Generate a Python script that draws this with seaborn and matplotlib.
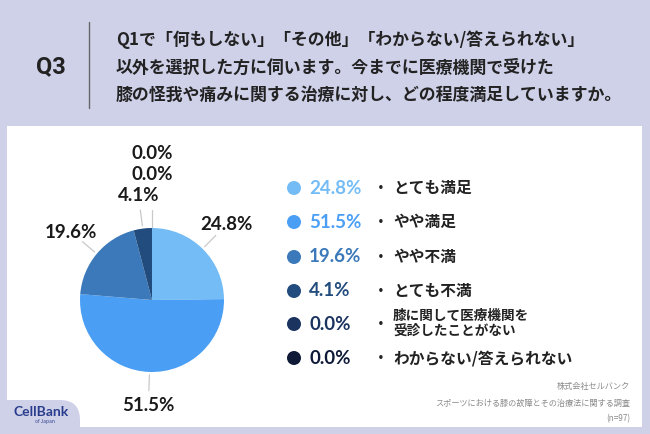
import numpy as np
import matplotlib
matplotlib.use("Agg")
import matplotlib.pyplot as plt
from matplotlib.patches import FancyBboxPatch, Rectangle, Circle
import seaborn as sns

# ---- data ----
categories = ["とても満足", "やや満足", "やや不満", "とても不満",
              "膝に関して医療機関を\n受診したことがない", "わからない/答えられない"]
values = [24.8, 51.5, 19.6, 4.1, 0.0, 0.0]
colors_hex = ["#74bcf6", "#4a9ff5", "#3b79ba", "#224c7e", "#1b335f", "#0e1a38"]
title_q = "Q3"
question_lines = ["Q1で「何もしない」「その他」「わからない/答えられない」",
                  "以外を選択した方に伺います。今までに医療機関で受けた",
                  "膝の怪我や痛みに関する治療に対し、どの程度満足していますか。"]
source_lines = ["株式会社セルバンク", "スポーツにおける膝の故障とその治療法に関する調査", "(n=97)"]

sns.set_theme(style="white")
plt.rcParams['font.family'] = ['Noto Sans CJK JP', 'DejaVu Sans']
palette = sns.color_palette(colors_hex)

W, H = 650, 434
fig = plt.figure(figsize=(6.5, 4.34), dpi=100)
LAV = "#cfd1e9"
fig.patch.set_facecolor(LAV)

bg = fig.add_axes([0, 0, 1, 1])
bg.set_xlim(0, W)
bg.set_ylim(H, 0)
bg.axis("off")
bg.set_facecolor(LAV)

# white panel
bg.add_patch(Rectangle((7, 126), 635, 301, facecolor="white", edgecolor="none", zorder=1))
# lavender logo tab
bg.add_patch(FancyBboxPatch((-30, 400), 110, 60,
                            boxstyle="round,pad=0,rounding_size=20",
                            facecolor=LAV, edgecolor="none", zorder=2))
bg.text(41, 412, "CellBank", fontsize=10, fontweight="bold", color="#2a3d8c",
        ha="center", va="center", zorder=3, family=['Lato', 'DejaVu Sans'])
bg.text(45, 422, "of Japan", fontsize=3.5, color="#2a3d8c",
        ha="center", va="center", zorder=3)

# header
bg.text(51, 67, title_q, fontsize=17, fontweight="bold", color="#222222",
        ha="center", va="center", family=['Roboto', 'DejaVu Sans'])
bg.plot([89, 89], [22, 108], color="#666666", lw=1.0)
for i, line in enumerate(question_lines):
    bg.text(116, 40 + 27.5 * i, line, fontsize=12.2, fontweight="bold",
            color="#222222", ha="left", va="center")

# source
for i, line in enumerate(source_lines):
    bg.text(630, 387 + 16 * i, line, fontsize=5.9, color="#8a8a8a",
            ha="right", va="center", zorder=3)

# legend
row_y = [188, 222, 257, 291, 324, 358]
for i, (cat, v) in enumerate(zip(categories, values)):
    y = row_y[i]
    bg.add_patch(Circle((294, y), 7, facecolor=palette[i], edgecolor="none", zorder=3))
    bg.text(309, y, f"{v:.1f}%", fontsize=13.5, color=palette[i],
            ha="left", va="center", zorder=3, family=['Lato', 'DejaVu Sans'],
            fontweight="bold")
    bg.text(381, y + 1, "・", fontsize=10, color="#222222", ha="center",
            va="center", zorder=3, fontweight="bold")
    if "\n" in cat:
        l1, l2 = cat.split("\n")
        bg.text(393, y - 8, l1, fontsize=9.8, fontweight="bold", color="#222222",
                ha="left", va="center", zorder=3)
        bg.text(393, y + 7, l2, fontsize=9.8, fontweight="bold", color="#222222",
                ha="left", va="center", zorder=3)
    else:
        bg.text(393, y, cat, fontsize=11.3, fontweight="bold", color="#222222",
                ha="left", va="center", zorder=3)

# pie
cx, cy, R, HB = 152, 300, 72, 150
ax = fig.add_axes([(cx - HB) / W, (H - cy - HB) / H, 2 * HB / W, 2 * HB / H])
ax.set_facecolor("none")
wedges, _ = ax.pie(values, colors=palette, startangle=90, counterclock=False,
                   wedgeprops=dict(linewidth=0), radius=1.0)
ax.set_xlim(-HB / R, HB / R)
ax.set_ylim(-HB / R, HB / R)
ax.set_aspect("equal")
ax.axis("off")

total = sum(values)
start = 90.0
zero_k = 0
for i, v in enumerate(values):
    span = v / total * 360.0
    mid = np.deg2rad(start - span / 2)
    start -= span
    if v == 0:
        dist = 1.74 + 0.30 * zero_k
        zero_k += 1
        lx, ly = 0.0, dist
        if zero_k == 1:
            ax.plot([0, 0], [1.02, 1.25], color="#c8c8c8", lw=0.9, clip_on=False)
    else:
        dist = 1.47
        lx, ly = dist * np.cos(mid), dist * np.sin(mid)
        ax.plot([1.04 * np.cos(mid), 1.26 * np.cos(mid)],
                [1.04 * np.sin(mid), 1.26 * np.sin(mid)],
                color="#c8c8c8", lw=0.9, clip_on=False)
    ax.text(lx, ly, f"{v:.1f}%", fontsize=13.5, color="#1a1a1a", ha="center",
            va="center", clip_on=False, family=['Lato', 'DejaVu Sans'],
            fontweight="bold")

fig.savefig("out.png", dpi=100, facecolor=LAV)
